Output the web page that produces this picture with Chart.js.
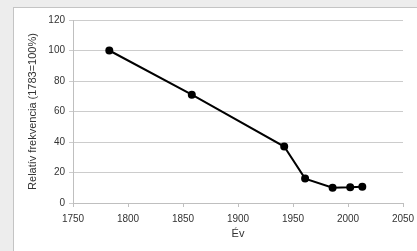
<!DOCTYPE html>
<html>
<head>
<meta charset="utf-8">
<script src="https://cdn.jsdelivr.net/npm/chart.js@4/dist/chart.umd.min.js"></script>
<style>
  html, body { margin: 0; padding: 0; background: #ededed; overflow: hidden; }
  #frame { position: absolute; left: 13px; top: 7px; width: 420px; height: 260px; background: #fff; border-left: 1px solid #c4c4c4; border-top: 1px solid #c4c4c4; }
  #wrap { position: absolute; left: 0; top: 0; width: 417px; height: 251px; }
</style>
</head>
<body>
<div id="frame"></div>
<div id="wrap"><canvas id="chart" width="417" height="251"></canvas></div>
<script>
// years and relative frequency (1783 = 100%)
const years = [1783, 1858, 1942, 1961, 1986, 2002, 2013];
const freq = [100, 71, 37, 16, 10, 10.3, 10.7];

const points = years.map((y, i) => ({ x: y, y: freq[i] }));

Chart.defaults.font.family = "'Liberation Sans', Arial, sans-serif";
Chart.defaults.font.size = 10;
Chart.defaults.color = "#333";

new Chart(document.getElementById("chart"), {
    type: "line",
    data: {
        datasets: [{
            data: points,
            borderColor: "#000",
            backgroundColor: "#000",
            borderWidth: 2,
            pointRadius: 3,
            pointHoverRadius: 3,
            fill: false,
            tension: 0
        }]
    },
    options: {
        responsive: false,
        animation: false,
        plugins: { legend: { display: false }, tooltip: { enabled: false } },
        layout: { padding: { left: 22, top: 20, right: 14, bottom: 6 } },
        scales: {
            x: {
                type: "linear",
                min: 1750, max: 2050,
                ticks: { stepSize: 50, padding: 6, maxRotation: 0, callback: v => String(v) },
                grid: { drawOnChartArea: false, tickLength: 4, color: "#bfbfbf" },
                border: { color: "#bfbfbf" },
                title: { display: true, text: "Év", font: { size: 11 }, padding: { top: 4, bottom: 4 } },
                afterFit: s => { s.height = 42; s.paddingRight = 0; }
            },
            y: {
                min: 0, max: 120,
                ticks: { stepSize: 20, padding: 4 },
                grid: { color: "#cccccc", tickLength: 4 },
                border: { color: "#bfbfbf" },
                title: { display: true, text: "Relatív frekvencia (1783=100%)", font: { size: 11 }, padding: { top: 4, bottom: 4 } },
                afterFit: s => { s.width = 51; }
            }
        }
    }
});
</script>
</body>
</html>
